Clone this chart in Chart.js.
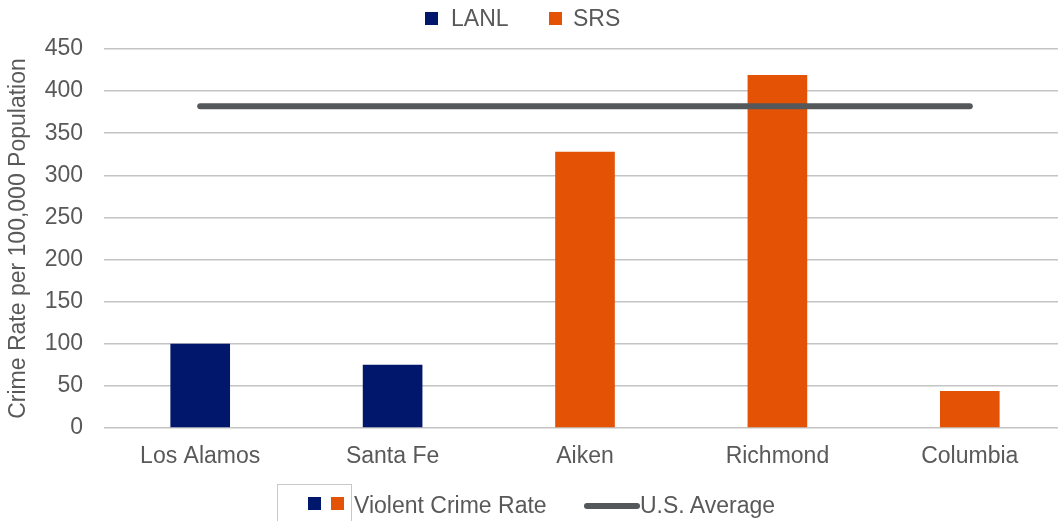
<!DOCTYPE html>
<html>
<head>
<meta charset="utf-8">
<script src="https://cdn.jsdelivr.net/npm/chart.js@4.4.0/dist/chart.umd.min.js"></script>
<style>
  html, body { margin: 0; padding: 0; background: #fff; overflow: hidden; }
  body { width: 1058px; height: 521px; position: relative; font-family: "Liberation Sans", Arial, sans-serif; color: #595959; }
  #wrap { position: absolute; left: 0; top: 0; width: 1070px; height: 521px; }
  .leg { position: absolute; font-size: 23px; line-height: 26px; color: #595959; white-space: nowrap; }
  .sq { position: absolute; width: 13px; height: 13px; }
  #box { position: absolute; left: 277px; top: 484px; width: 75px; height: 60px; border: 1px solid #c8c8c8; box-sizing: border-box; }
  #avgline { position: absolute; left: 584px; top: 503px; width: 56px; height: 6px; border-radius: 3px; background: #54585a; }
</style>
</head>
<body>
<div id="wrap"><canvas id="c" width="1070" height="521"></canvas></div>

<div class="sq" style="left:425px; top:12px; background:#00176b"></div>
<div class="leg" style="left:451px; top:5px">LANL</div>
<div class="sq" style="left:549px; top:12px; background:#e35205"></div>
<div class="leg" style="left:573px; top:5px">SRS</div>

<div id="box"></div>
<div class="sq" style="left:308px; top:497px; background:#00176b"></div>
<div class="sq" style="left:331px; top:497px; background:#e35205"></div>
<div class="leg" style="left:354px; top:492px">Violent Crime Rate</div>
<div id="avgline"></div>
<div class="leg" style="left:640px; top:492px">U.S. Average</div>

<script>
const categories = ["Los Alamos", "Santa Fe", "Aiken", "Richmond", "Columbia"];
const sites = ["LANL", "LANL", "SRS", "SRS", "SRS"];
const violentCrimeRate = [100, 75, 328, 419, 44];
const usAverage = [382, 382, 382, 382, 382];
const yTicks = [0, 50, 100, 150, 200, 250, 300, 350, 400, 450];

const siteColors = { LANL: "#00176b", SRS: "#e35205" };

new Chart(document.getElementById("c"), {
  data: {
    labels: categories,
    datasets: [
      {
        type: "line",
        label: "U.S. Average",
        data: usAverage,
        borderColor: "#54585a",
        borderWidth: 6,
        borderCapStyle: "round",
        pointRadius: 0,
        fill: false,
        order: 0
      },
      {
        type: "bar",
        label: "Violent Crime Rate",
        data: violentCrimeRate,
        backgroundColor: sites.map(s => siteColors[s]),
        barPercentage: 0.31,
        categoryPercentage: 1,
        order: 1
      }
    ]
  },
  options: {
    responsive: false,
    animation: false,
    layout: { padding: { top: 49, right: 4, left: 0, bottom: 0 } },
    plugins: { legend: { display: false }, tooltip: { enabled: false } },
    scales: {
      x: {
        grid: { display: false, drawTicks: false },
        border: { display: false },
        ticks: { color: "#595959", font: { family: "Liberation Sans", size: 23 }, padding: 15 },
        afterFit: s => { s.height = 93; }
      },
      y: {
        min: 0, max: 450,
        afterBuildTicks: s => { s.ticks = yTicks.map(v => ({ value: v })); },
        grid: { color: "#c4c4c4", lineWidth: 1.5, drawTicks: false },
        border: { display: false },
        ticks: { color: "#595959", font: { family: "Liberation Sans", size: 23 }, padding: 21 },
        title: {
          display: true,
          text: "Crime Rate per 100,000 Population",
          color: "#595959",
          font: { family: "Liberation Sans", size: 23 },
          padding: { top: 5, bottom: 0 }
        },
        afterFit: s => { s.width = 104; }
      }
    }
  }
});
</script>
</body>
</html>
